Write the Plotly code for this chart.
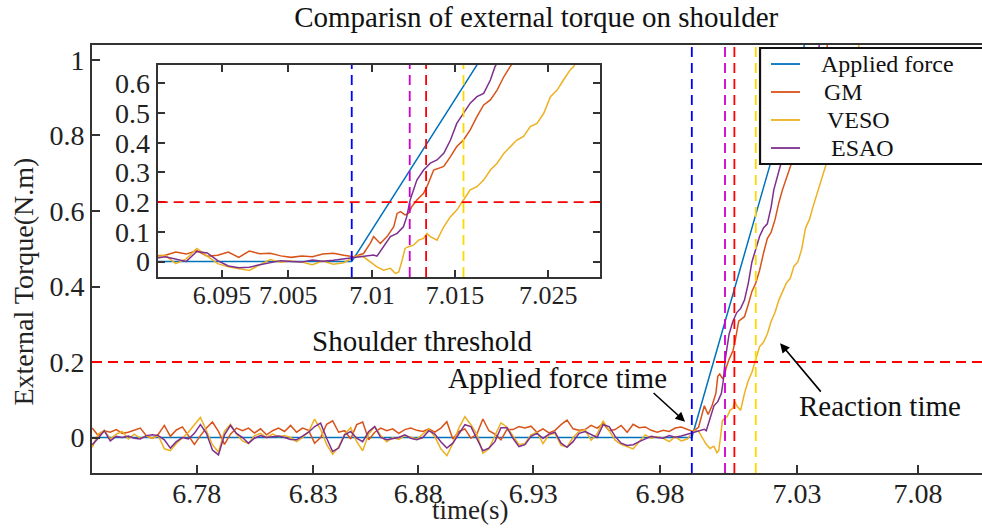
import plotly.graph_objects as go

# ---------------- data ----------------
series_names = ["Applied force", "GM", "VESO", "ESAO"]
series_colors = ["#0072BD", "#D95319", "#EDB120", "#7E2F8E"]

# uniformly sampled pre-contact segment (s)
t_start = 6.7365
t_step = 0.0025
n_flat = 100
t_flat = [round(t_start + t_step * k, 5) for k in range(n_flat)]

gm_flat = [
    0.025, 0.005, 0.018, 0.014, 0.021, 0.011, 0.014, 0.019, 0.025, 0.005,
    -0.002, 0.009, 0.032, 0.003, 0.020, 0.028, 0.005, -0.018, 0.005, 0.025,
    0.041, 0.016, -0.018, 0.009, 0.025, 0.018, 0.025, 0.012, 0.023, 0.007,
    0.018, 0.025, 0.016, 0.032, 0.014, 0.025, 0.019, -0.015, 0.000, 0.035,
    0.044, 0.014, 0.018, -0.004, 0.034, 0.041, -0.006, 0.014, 0.025, 0.018,
    0.023, 0.011, 0.021, 0.025, 0.019, 0.016, 0.023, 0.014, 0.025, 0.042,
    -0.004, 0.016, 0.023, -0.002, 0.009, 0.049, 0.018, 0.009, -0.006, 0.021,
    0.021, 0.029, 0.025, 0.030, 0.014, 0.023, 0.012, 0.019, 0.034, 0.046,
    0.023, 0.019, 0.021, 0.032, 0.025, 0.037, 0.018, 0.021, 0.032, 0.014,
    0.035, 0.026, 0.028, 0.019, 0.014, 0.019, 0.016, 0.025, 0.028, 0.021,
]
veso_flat = [
    -0.026, 0.009, 0.019, -0.004, 0.009, 0.016, -0.004, 0.009, -0.002, 0.004,
    -0.002, 0.005, -0.030, -0.035, -0.016, 0.000, 0.014, 0.034, 0.053, 0.018,
    -0.019, -0.039, 0.016, 0.035, 0.009, -0.009, -0.016, 0.005, 0.011, 0.000,
    0.009, 0.002, 0.005, 0.000, -0.011, 0.000, 0.016, 0.049, 0.021, -0.018,
    -0.044, -0.025, 0.009, 0.026, -0.011, -0.035, 0.009, 0.029, 0.005, -0.011,
    0.000, -0.005, 0.005, 0.001, -0.004, 0.009, 0.023, 0.002, -0.030, -0.048,
    -0.016, 0.025, 0.055, 0.034, 0.009, -0.042, -0.030, 0.005, 0.039, 0.028,
    0.005, -0.019, -0.016, 0.007, 0.014, -0.016, 0.007, 0.011, -0.021, -0.025,
    0.000, 0.016, 0.021, -0.007, 0.009, 0.044, 0.018, -0.007, -0.018, -0.023,
    -0.030, -0.011, 0.007, -0.002, 0.002, -0.002, -0.011, 0.002, -0.009, -0.004,
]
esao_flat = [
    -0.019, -0.002, 0.018, -0.009, 0.003, 0.000, 0.004, -0.002, -0.004, 0.005,
    0.007, 0.005, -0.006, -0.028, -0.011, 0.000, -0.004, 0.011, 0.034, 0.011,
    -0.033, -0.046, 0.007, 0.032, 0.011, 0.000, -0.015, -0.002, 0.005, 0.000,
    0.002, 0.004, 0.000, -0.005, -0.006, 0.003, 0.014, 0.029, 0.038, -0.002,
    -0.037, -0.028, 0.007, 0.016, -0.002, -0.011, 0.016, 0.029, 0.000, -0.006,
    -0.004, 0.000, 0.007, -0.002, -0.006, 0.000, 0.018, 0.009, -0.011, -0.028,
    -0.015, 0.011, 0.034, 0.029, -0.002, -0.035, -0.028, -0.011, 0.026, 0.026,
    -0.002, -0.024, -0.019, 0.003, 0.011, -0.002, 0.009, 0.014, -0.015, -0.026,
    -0.011, 0.011, 0.016, 0.007, 0.000, 0.034, 0.029, 0.003, -0.015, -0.021,
    -0.019, -0.011, -0.004, 0.003, 0.000, -0.002, 0.005, 0.001, 0.004, 0.009,
]

# post-contact (rising) segments
applied_t = [6.7365, 6.9859, 7.0459]
applied_v = [0.0, 0.0, 1.332]

gm_rise_t = [6.9863, 6.9887, 6.9903, 6.9911, 6.9919, 6.9927, 6.9943, 6.9959, 6.9967, 6.9975,
             6.9986, 6.9994, 7.0002, 7.0014, 7.0030, 7.0038, 7.0054, 7.0066, 7.0078, 7.0094,
             7.0109, 7.0125, 7.0141, 7.0157, 7.0173, 7.0189, 7.0205, 7.0221, 7.0236, 7.0270,
             7.0310, 7.0350, 7.0385, 7.0420, 7.0460]
gm_rise_v = [0.016, 0.027, 0.061, 0.084, 0.072, 0.061, 0.084, 0.117, 0.162, 0.168,
             0.157, 0.162, 0.185, 0.207, 0.230, 0.252, 0.308, 0.314, 0.320, 0.353,
             0.387, 0.409, 0.443, 0.488, 0.527, 0.544, 0.577, 0.622, 0.656, 0.720,
             0.790, 0.880, 0.960, 1.040, 1.120]

veso_rise_t = [6.9859, 6.9871, 6.9887, 6.9903, 6.9919, 6.9935, 6.9951, 6.9963, 6.9971, 6.9979,
               6.9986, 6.9994, 7.0006, 7.0018, 7.0030, 7.0038, 7.0046, 7.0062, 7.0078, 7.0094,
               7.0109, 7.0125, 7.0141, 7.0157, 7.0173, 7.0189, 7.0205, 7.0221, 7.0236, 7.0252,
               7.0268, 7.0284, 7.0300, 7.0316, 7.0332, 7.0348, 7.0363, 7.0379, 7.0387, 7.0420,
               7.0445, 7.0470, 7.0500, 7.0525, 7.0555, 7.0580]
veso_rise_v = [0.010, 0.019, 0.016, -0.001, -0.018, -0.029, -0.023, -0.040, -0.035, 0.005,
               0.044, 0.050, 0.055, 0.072, 0.078, 0.095, 0.084, 0.072, 0.117, 0.151,
               0.173, 0.207, 0.241, 0.252, 0.274, 0.308, 0.331, 0.364, 0.387, 0.409,
               0.421, 0.454, 0.465, 0.499, 0.555, 0.577, 0.611, 0.645, 0.656, 0.730,
               0.780, 0.840, 0.910, 0.970, 1.040, 1.100]

esao_rise_t = [6.9859, 6.9887, 6.9911, 6.9919, 6.9935, 6.9951, 6.9967, 6.9982, 6.9990, 6.9998,
               7.0014, 7.0030, 7.0046, 7.0062, 7.0078, 7.0094, 7.0109, 7.0125, 7.0141, 7.0157,
               7.0173, 7.0189, 7.0200, 7.0226, 7.0260, 7.0300, 7.0340, 7.0390, 7.0450]
esao_rise_v = [0.012, 0.019, 0.022, 0.018, 0.050, 0.084, 0.095, 0.117, 0.151, 0.207,
               0.274, 0.308, 0.331, 0.342, 0.364, 0.409, 0.465, 0.499, 0.533, 0.555,
               0.566, 0.611, 0.656, 0.717, 0.780, 0.860, 0.940, 1.040, 1.160]

# event times (s): applied force, ESAO, GM, VESO reactions
event_times = [6.9859, 6.9997, 7.0036, 7.0125]
event_colors = ["#0000FF", "#CC00CC", "#FF0000", "#FFD700"]
threshold = 0.2

# tick labels
main_xtick_text = ["6.78", "6.83", "6.88", "6.93", "6.98", "7.03", "7.08"]
main_ytick_vals = [0, 0.2, 0.4, 0.6, 0.8, 1.0]
main_ytick_text = ["0", "0.2", "0.4", "0.6", "0.8", "1"]
inset_xtick_text = ["6.095", "7.005", "7.01", "7.015", "7.025"]
inset_ytick_vals = [0, 0.1, 0.2, 0.3, 0.4, 0.5, 0.6]
inset_ytick_text = ["0", "0.1", "0.2", "0.3", "0.4", "0.5", "0.6"]

# ---------------- layout helpers (positions) ----------------
main_xtick_pos = [6.7800, 6.8284, 6.8721, 6.9199, 6.9727, 7.0297, 7.0800]
main_top_tick_pos = [6.7780, 6.8379, 6.8966, 6.9611, 7.0206, 7.0800]
inset_xtick_pos = [6.9550, 6.9708, 6.9907, 7.0105, 7.0327]

FONT = "Liberation Serif"
AX = "#333333"
TXT = "#222222"

series_t = [
    applied_t,
    t_flat + gm_rise_t,
    t_flat + veso_rise_t,
    t_flat + esao_rise_t,
]
series_v = [
    applied_v,
    gm_flat + gm_rise_v,
    veso_flat + veso_rise_v,
    esao_flat + esao_rise_v,
]

fig = go.Figure()
for axes in [("x", "y"), ("x2", "y2")]:
    for name, col, tt, vv in zip(series_names, series_colors, series_t, series_v):
        fig.add_trace(go.Scatter(
            x=tt, y=vv, mode="lines", name=name,
            line=dict(color=col, width=1.5),
            xaxis=axes[0], yaxis=axes[1], showlegend=False,
        ))

shapes = []
for xr, yr in [("x", "y"), ("x2", "y2")]:
    shapes.append(dict(type="line", xref=f"{xr} domain", yref=yr, x0=0, x1=1,
                       y0=threshold, y1=threshold,
                       line=dict(color="#FF0000", width=1.8, dash="10px,6px"), layer="above"))
    for et, ec in zip(event_times, event_colors):
        shapes.append(dict(type="line", xref=xr, yref=f"{yr} domain", x0=et, x1=et,
                           y0=0, y1=1, line=dict(color=ec, width=1.8, dash="10px,6px"),
                           layer="above"))

# manual legend box (paper coordinates)
shapes.append(dict(type="rect", xref="paper", yref="paper", x0=0.7506, x1=1.2,
                   y0=0.7220, y1=0.993, fillcolor="white",
                   line=dict(color="#111111", width=2.2), layer="above"))
leg_line_y = [0.9556, 0.8902, 0.8248, 0.7593]
leg_text_x = [0.8169, 0.8202, 0.8236, 0.8281]
for col, ly in zip(series_colors, leg_line_y):
    shapes.append(dict(type="line", xref="paper", yref="paper", x0=0.7629, x1=0.7955,
                       y0=ly, y1=ly, line=dict(color=col, width=1.8), layer="above"))

annotations = []
for name, tx, ty in zip(series_names, leg_text_x, leg_line_y):
    annotations.append(dict(text=name, xref="paper", yref="paper", x=tx, y=ty,
                            xanchor="left", yanchor="middle", showarrow=False,
                            font=dict(family=FONT, size=24, color="#111111")))

annotations += [
    dict(text="Shoulder threshold", xref="paper", yref="paper", x=0.3713, y=0.3084,
         xanchor="center", yanchor="middle", showarrow=False,
         font=dict(family=FONT, size=29, color="#111111")),
    dict(text="Applied force time", xref="paper", yref="paper", x=0.5225, y=0.222,
         xanchor="center", yanchor="middle", showarrow=False,
         font=dict(family=FONT, size=29, color="#111111")),
    dict(text="Reaction time", xref="paper", yref="paper", x=0.8854, y=0.1565,
         xanchor="center", yanchor="middle", showarrow=False,
         font=dict(family=FONT, size=29, color="#111111")),
    dict(text="", xref="x", yref="y", x=6.9831, y=0.042, ax=-33, ay=-30,
         showarrow=True, arrowhead=2, arrowsize=1.2, arrowwidth=1.6, arrowcolor="#000000"),
    dict(text="", xref="x", yref="y", x=7.0226, y=0.250, ax=42, ay=50,
         showarrow=True, arrowhead=2, arrowsize=1.2, arrowwidth=1.6, arrowcolor="#000000"),
    dict(text="External Torque(N.m)", xref="paper", yref="paper", x=-0.0775, y=0.4474,
         textangle=-90, xanchor="center", yanchor="middle", showarrow=False,
         font=dict(family=FONT, size=28, color=TXT)),
    dict(text="time(s)", xref="paper", yref="paper", x=0.4247, y=-0.0864,
         xanchor="center", yanchor="middle", showarrow=False,
         font=dict(family=FONT, size=27, color=TXT)),
]

tickfont = dict(family=FONT, size=28, color=TXT)
inset_xfont = dict(family=FONT, size=26, color=TXT)

fig.update_layout(
    width=982, height=528,
    margin=dict(l=92, r=0, t=45, b=55),
    paper_bgcolor="white", plot_bgcolor="white",
    title=dict(text="Comparisn of external torque on shoulder", x=0.546, xanchor="center",
               y=0.968, yanchor="middle", font=dict(family=FONT, size=29, color="#111111")),
    showlegend=False,
    xaxis=dict(domain=[0, 1], range=[6.7364, 7.1066], tickvals=main_xtick_pos,
               ticktext=main_xtick_text, ticks="inside", ticklen=8, tickwidth=1.5,
               tickcolor=AX, showline=True, linecolor=AX, linewidth=2, mirror=True,
               showgrid=False, zeroline=False, tickfont=tickfont, anchor="y",
               tickangle=0, ticklabelstandoff=-6),
    xaxis3=dict(overlaying="x", side="top", range=[6.7364, 7.1066],
                tickvals=main_top_tick_pos, ticks="inside", ticklen=8, tickwidth=1.5,
                tickcolor=AX, showticklabels=False, showline=False, showgrid=False,
                zeroline=False, anchor="y"),
    yaxis=dict(domain=[0, 1], range=[-0.094, 1.0397], tickvals=main_ytick_vals,
               ticktext=main_ytick_text, ticks="inside", ticklen=8, tickwidth=1.5,
               tickcolor=AX, showline=True, linecolor=AX, linewidth=2, mirror=False,
               showgrid=False, zeroline=False, tickfont=tickfont, anchor="x"),
    xaxis2=dict(domain=[0.0738, 0.5708], range=[6.9397, 7.0450], tickvals=inset_xtick_pos,
                ticktext=inset_xtick_text, ticks="inside", ticklen=7, tickwidth=1.5,
                tickcolor=AX, showline=True, linecolor=AX, linewidth=2, mirror="allticks",
                showgrid=False, zeroline=False, tickfont=inset_xfont, anchor="y2",
                tickangle=0, ticklabelstandoff=-6),
    yaxis2=dict(domain=[0.458, 0.9533], range=[-0.052, 0.6616], tickvals=inset_ytick_vals,
                ticktext=inset_ytick_text, ticks="inside", ticklen=7, tickwidth=1.5,
                tickcolor=AX, showline=True, linecolor=AX, linewidth=2, mirror="allticks",
                showgrid=False, zeroline=False, tickfont=tickfont, anchor="x2"),
    shapes=shapes,
    annotations=annotations,
)

fig.write_html("out.html")
